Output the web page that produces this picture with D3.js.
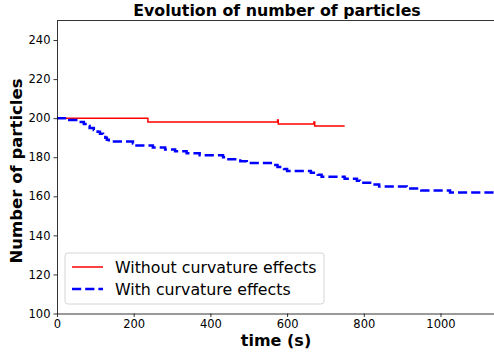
<!DOCTYPE html>
<html>
<head>
<meta charset="utf-8">
<script src="https://cdn.jsdelivr.net/npm/d3@7"></script>
<style>
    body { margin: 0; background: #fff; }
    text { font-family: "DejaVu Sans", sans-serif; }
</style>
</head>
<body>
<div id="visualisation"></div>
<script>
const w = 494;
const h = 353;

// red: no curvature effects (step changes)
var redTimes = [0, 237, 575, 577, 670, 672, 750];
var redCounts = [200, 198, 199, 197, 198, 196, 196];

// blue: with curvature effects
var blueTimes = [0, 32, 62, 70, 78, 85, 96, 106, 112, 120, 126, 130, 135, 198, 203, 250, 282, 308, 338,
    372, 433, 440, 478, 495, 565, 575, 592, 600, 662, 680, 690, 750, 782, 790, 820, 840, 912, 950, 1025, 1150];
var blueCounts = [200, 199, 198, 197, 196, 195, 194, 193, 192, 191, 190, 189, 188, 187, 186, 185, 184, 183, 182,
    181, 180, 179, 178, 177, 176, 175, 174, 173, 172, 171, 170, 169, 168, 167, 166, 165, 164, 163, 162, 162];

var xTicks = [0, 200, 400, 600, 800, 1000];
var yTicks = [100, 120, 140, 160, 180, 200, 220, 240];

var seriesNames = ["Without curvature effects", "With curvature effects"];

var plotLeft = 57, plotTop = 20.5, plotBottom = 313.5;

var x = d3.scaleLinear()
    .domain([0, 1150])
    .range([plotLeft, plotLeft + 1150 * 0.3835]);

var y = d3.scaleLinear()
    .domain([100, 250])
    .range([plotBottom, plotTop]);

var svg = d3.select("#visualisation")
    .append("svg")
    .attr("width", w)
    .attr("height", h);

svg.append("defs").append("clipPath")
    .attr("id", "clip")
    .append("rect")
    .attr("x", plotLeft)
    .attr("y", plotTop)
    .attr("width", x.range()[1] - plotLeft)
    .attr("height", plotBottom - plotTop);

function toPoints(times, counts) {
    var pts = [];
    for (var i = 0; i < times.length; i++) {
        pts.push([times[i], counts[i]]);
    }
    return pts;
}

var line = d3.line()
    .x(function(d) { return x(d[0]); })
    .y(function(d) { return y(d[1]); })
    .curve(d3.curveStepAfter);

var plot = svg.append("g").attr("clip-path", "url(#clip)");

plot.append("path")
    .attr("d", line(toPoints(redTimes, redCounts)))
    .attr("fill", "none")
    .attr("stroke", "#ff0000")
    .attr("stroke-width", 1.5);

plot.append("path")
    .attr("d", line(toPoints(blueTimes, blueCounts)))
    .attr("fill", "none")
    .attr("stroke", "#0000ff")
    .attr("stroke-width", 2.5)
    .attr("stroke-dasharray", "9.2,4");

// axes
var xAxis = d3.axisBottom(x)
    .tickValues(xTicks)
    .tickFormat(d3.format("d"))
    .tickSize(3.5)
    .tickPadding(3)
    .tickSizeOuter(0);

var yAxis = d3.axisLeft(y)
    .tickValues(yTicks)
    .tickFormat(d3.format("d"))
    .tickSize(3.5)
    .tickPadding(3)
    .tickSizeOuter(0);

var gx = svg.append("g")
    .attr("transform", "translate(0," + plotBottom + ")")
    .call(xAxis);

var gy = svg.append("g")
    .attr("transform", "translate(" + plotLeft + ",0)")
    .call(yAxis);

[gx, gy].forEach(function(g) {
    g.selectAll("text")
        .attr("font-family", "DejaVu Sans")
        .attr("font-size", 11.5)
        .attr("fill", "#000");
    g.selectAll("line").attr("stroke", "#000").attr("stroke-width", 0.8);
    g.select(".domain").attr("stroke", "#000").attr("stroke-width", 0.8);
});

// top and right spines
svg.append("line")
    .attr("x1", plotLeft)
    .attr("x2", x.range()[1])
    .attr("y1", plotTop)
    .attr("y2", plotTop)
    .attr("stroke", "#000")
    .attr("stroke-width", 0.8);

svg.append("line")
    .attr("x1", x.range()[1])
    .attr("x2", x.range()[1])
    .attr("y1", plotTop)
    .attr("y2", plotBottom)
    .attr("stroke", "#000")
    .attr("stroke-width", 0.8);

// title and labels
svg.append("text")
    .attr("x", 277)
    .attr("y", 16)
    .attr("text-anchor", "middle")
    .attr("font-size", 15.8)
    .attr("font-weight", "bold")
    .text("Evolution of number of particles");

svg.append("text")
    .attr("x", 276)
    .attr("y", 346)
    .attr("text-anchor", "middle")
    .attr("font-size", 16)
    .attr("font-weight", "bold")
    .text("time (s)");

svg.append("text")
    .attr("transform", "translate(22,171) rotate(-90)")
    .attr("text-anchor", "middle")
    .attr("font-size", 16.5)
    .attr("font-weight", "bold")
    .text("Number of particles");

// legend
var legend = svg.append("g");

legend.append("rect")
    .attr("x", 65)
    .attr("y", 253)
    .attr("width", 259)
    .attr("height", 51)
    .attr("rx", 3)
    .attr("fill", "#fff")
    .attr("fill-opacity", 0.8)
    .attr("stroke", "#d6d6d6")
    .attr("stroke-width", 1);

var legendStyles = [
    { color: "#ff0000", width: 1.5, dash: null },
    { color: "#0000ff", width: 2.5, dash: "9.2,4" }
];

seriesNames.forEach(function(name, i) {
    var ly = 267 + i * 22;
    legend.append("line")
        .attr("x1", 72)
        .attr("x2", 103)
        .attr("y1", ly)
        .attr("y2", ly)
        .attr("stroke", legendStyles[i].color)
        .attr("stroke-width", legendStyles[i].width)
        .attr("stroke-dasharray", legendStyles[i].dash);
    legend.append("text")
        .attr("x", 115)
        .attr("y", ly + 5.5)
        .attr("font-size", 15.8)
        .attr("fill", "#000")
        .text(name);
});
</script>
</body>
</html>
